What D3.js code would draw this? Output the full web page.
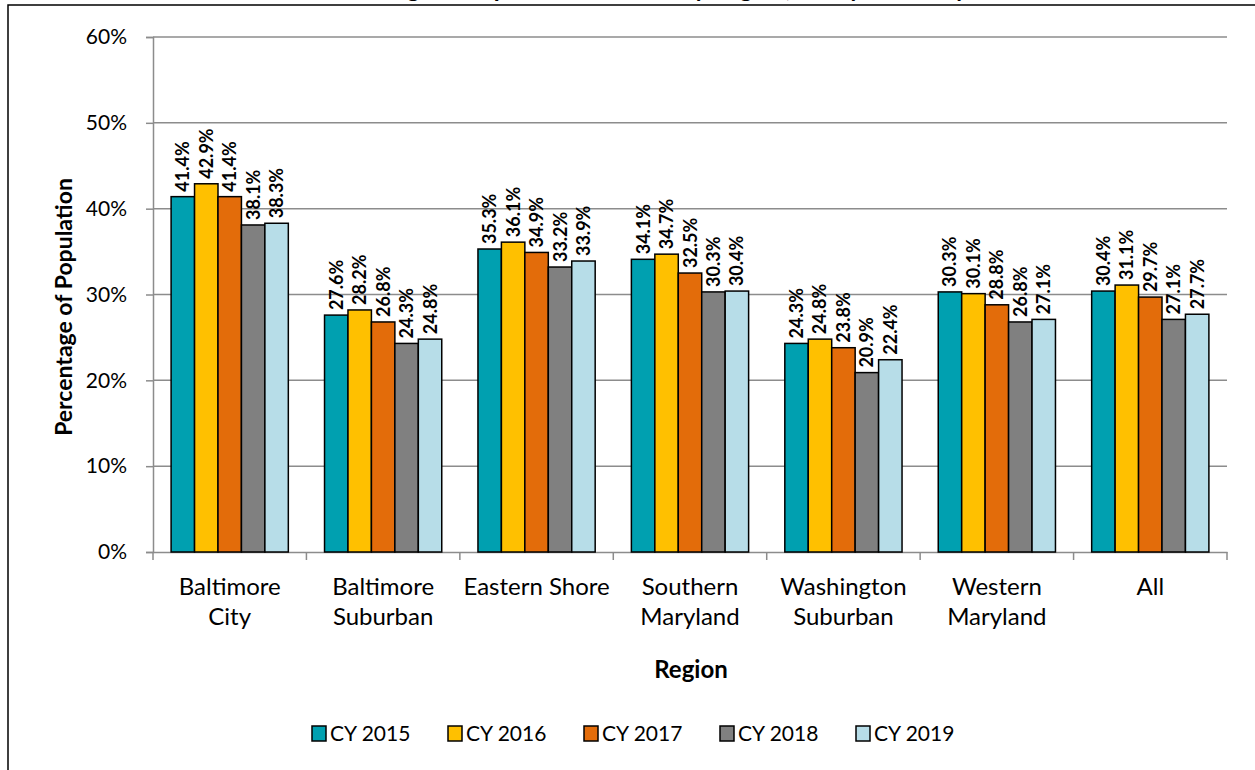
<!DOCTYPE html>
<html>
<head>
<meta charset="utf-8">
<script src="https://cdn.jsdelivr.net/npm/d3@7"></script>
<style>
  body { margin: 0; background: #fff; }
  svg { display: block; }
</style>
</head>
<body>
<div id="chart-area"></div>
<script>
const regions = ["Baltimore City", "Baltimore Suburban", "Eastern Shore", "Southern Maryland",
  "Washington Suburban", "Western Maryland", "All"]
const regionLines = [["Baltimore", "City"], ["Baltimore", "Suburban"], ["Eastern Shore"],
  ["Southern", "Maryland"], ["Washington", "Suburban"], ["Western", "Maryland"], ["All"]]
const years = ["CY 2015", "CY 2016", "CY 2017", "CY 2018", "CY 2019"]
const cy2015 = [41.4, 27.6, 35.3, 34.1, 24.3, 30.3, 30.4]
const cy2016 = [42.9, 28.2, 36.1, 34.7, 24.8, 30.1, 31.1]
const cy2017 = [41.4, 26.8, 34.9, 32.5, 23.8, 28.8, 29.7]
const cy2018 = [38.1, 24.3, 33.2, 30.3, 20.9, 26.8, 27.1]
const cy2019 = [38.3, 24.8, 33.9, 30.4, 22.4, 27.1, 27.7]
const yTicks = [0, 10, 20, 30, 40, 50, 60]
const colors = ["#00A0B0", "#FFC000", "#E36C0A", "#808080", "#B7DDE8"]

const series = [cy2015, cy2016, cy2017, cy2018, cy2019]

const MARGIN = { LEFT: 153, RIGHT: 28, TOP: 37, BOTTOM: 218 }
const WIDTH = 1255 - MARGIN.LEFT - MARGIN.RIGHT
const HEIGHT = 770 - MARGIN.TOP - MARGIN.BOTTOM

const svg = d3.select("#chart-area").append("svg")
  .attr("width", 1255)
  .attr("height", 770)

// outer frame (title sits above and is mostly cut off)
svg.append("rect")
  .attr("x", 8).attr("y", 5)
  .attr("width", 1270).attr("height", 800)
  .attr("fill", "none")
  .attr("stroke", "#000")
  .attr("stroke-width", 1.5)

svg.append("text")
  .attr("x", 640)
  .attr("y", -3)
  .attr("text-anchor", "middle")
  .attr("font-family", "Lato, sans-serif")
  .attr("font-weight", "bold")
  .attr("font-size", "24px")
  .text("Percentage of Population Enrolled by Region, Yearly Summary")

const g = svg.append("g")
  .attr("transform", `translate(${MARGIN.LEFT}, ${MARGIN.TOP})`)

const x0 = d3.scaleBand()
  .domain(regions)
  .range([0, WIDTH])

const x1 = d3.scaleBand()
  .domain(years)
  .range([x0.bandwidth() * 0.118, x0.bandwidth() * 0.882])

const y = d3.scaleLinear()
  .domain([0, 60])
  .range([HEIGHT, 0])

// gridlines
g.append("g")
  .selectAll("line")
  .data(yTicks.filter(d => d > 0))
  .enter().append("line")
  .attr("x1", 0).attr("x2", WIDTH)
  .attr("y1", d => y(d)).attr("y2", d => y(d))
  .attr("stroke", "#8c8c8c")
  .attr("stroke-width", 1.5)

// Y axis
const yAxisCall = d3.axisLeft(y).tickValues(yTicks).tickSize(7).tickFormat(d => d + "%")
const yAxis = g.append("g").call(yAxisCall)
yAxis.select(".domain").attr("stroke", "#8c8c8c").attr("stroke-width", 1.5)
yAxis.selectAll(".tick line").attr("stroke", "#8c8c8c").attr("stroke-width", 1.5)
yAxis.selectAll(".tick text")
  .attr("x", -26)
  .attr("font-family", "Lato, sans-serif")
  .attr("font-size", "21px")
  .attr("fill", "#000")

// X axis
const xAxisCall = d3.axisBottom(x0).tickSize(0).tickFormat("")
const xAxis = g.append("g")
  .attr("transform", `translate(0, ${HEIGHT})`)
  .call(xAxisCall)
xAxis.select(".domain").attr("stroke", "#8c8c8c").attr("stroke-width", 1.5)
xAxis.selectAll(".tick").remove()

const boundaries = regions.map(r => x0(r)).concat([WIDTH])
xAxis.selectAll("line.sep")
  .data(boundaries)
  .enter().append("line")
  .attr("class", "sep")
  .attr("x1", d => d).attr("x2", d => d)
  .attr("y1", 0).attr("y2", 8)
  .attr("stroke", "#8c8c8c")
  .attr("stroke-width", 1.5)

regions.forEach((r, i) => {
  const t = xAxis.append("text")
    .attr("x", x0(r) + x0.bandwidth() / 2)
    .attr("y", 43)
    .attr("text-anchor", "middle")
    .attr("font-family", "Lato, sans-serif")
    .attr("font-size", "24px")
    .attr("fill", "#000")
  regionLines[i].forEach((line, j) => {
    t.append("tspan")
      .attr("x", x0(r) + x0.bandwidth() / 2)
      .attr("dy", j === 0 ? 0 : 30)
      .text(line)
  })
})

// bars
const groups = g.selectAll("g.region")
  .data(regions)
  .enter().append("g")
  .attr("class", "region")
  .attr("transform", d => `translate(${x0(d)}, 0)`)

years.forEach((yr, k) => {
  groups.append("rect")
    .attr("x", x1(yr))
    .attr("y", (d, i) => y(series[k][i]))
    .attr("width", x1.bandwidth())
    .attr("height", (d, i) => HEIGHT - y(series[k][i]))
    .attr("fill", colors[k])
    .attr("stroke", "#000")
    .attr("stroke-width", 1.5)

  groups.append("text")
    .attr("transform", (d, i) =>
      `translate(${x1(yr) + x1.bandwidth() / 2 + 6.5}, ${y(series[k][i]) - 5}) rotate(-90)`)
    .attr("font-family", "Lato, sans-serif")
    .attr("font-weight", "bold")
    .attr("font-size", "18px")
    .attr("fill", "#000")
    .text((d, i) => series[k][i].toFixed(1) + "%")
})

// axis titles
g.append("text")
  .attr("x", -270)
  .attr("y", -81)
  .attr("transform", "rotate(-90)")
  .attr("text-anchor", "middle")
  .attr("font-family", "Lato, sans-serif")
  .attr("font-weight", "bold")
  .attr("font-size", "23px")
  .text("Percentage of Population")

g.append("text")
  .attr("x", 538)
  .attr("y", HEIGHT + 126)
  .attr("text-anchor", "middle")
  .attr("font-family", "Lato, sans-serif")
  .attr("font-weight", "bold")
  .attr("font-size", "24px")
  .text("Region")

// legend
const legend = svg.append("g").attr("transform", "translate(312, 726)")
years.forEach((yr, i) => {
  const row = legend.append("g").attr("transform", `translate(${i * 136}, 0)`)
  row.append("rect")
    .attr("width", 14).attr("height", 15)
    .attr("fill", colors[i])
    .attr("stroke", "#000")
    .attr("stroke-width", 1.5)
  row.append("text")
    .attr("x", 18)
    .attr("y", 15)
    .attr("font-family", "Lato, sans-serif")
    .attr("font-size", "21px")
    .text(yr)
})
</script>
</body>
</html>
